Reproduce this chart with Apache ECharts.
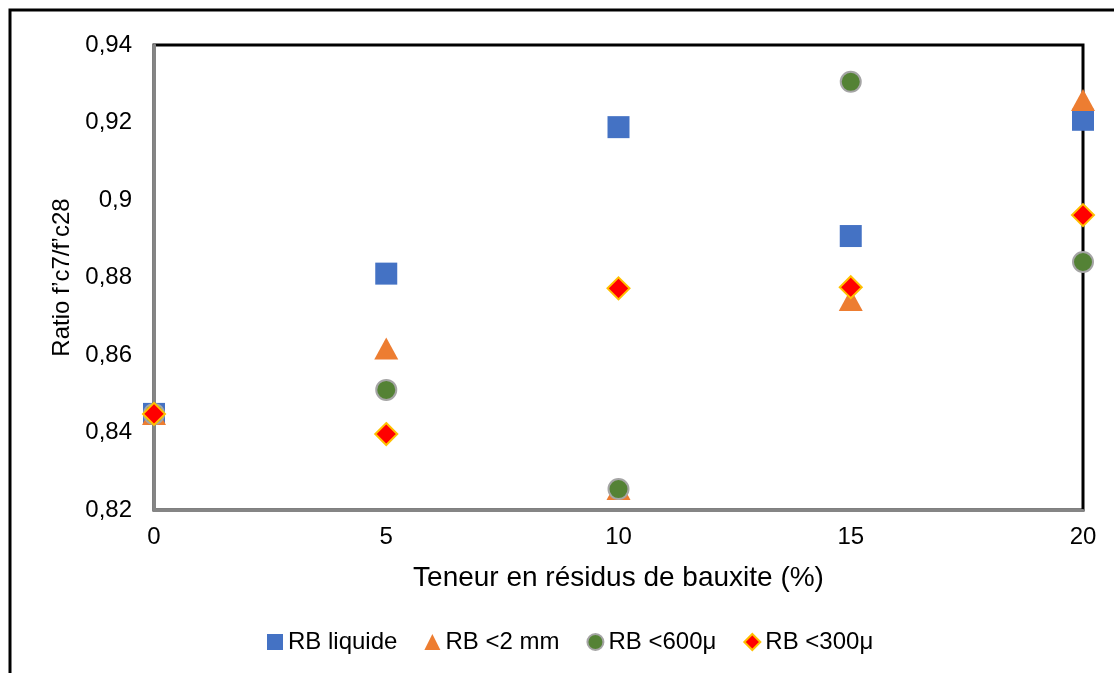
<!DOCTYPE html>
<html>
<head>
<meta charset="utf-8">
<script src="https://cdn.jsdelivr.net/npm/echarts@6/dist/echarts.min.js"></script>
<style>
  html, body { margin: 0; padding: 0; background: #ffffff; }
  #chart { width: 1114px; height: 673px; }
</style>
</head>
<body>
<div id="chart"></div>
<script>
// Teneur en résidus de bauxite (%)
const teneur = [0, 5, 10, 15, 20];

// Ratio f'c7/f'c28 per type of bauxite residue
const rbLiquide = [0.8448, 0.8810, 0.9188, 0.8907, 0.9207];
const rb2mm     = [0.8448, 0.8617, 0.8254, 0.8742, 0.9258];
const rb600     = [0.8448, 0.8510, 0.8254, 0.9305, 0.8840];
const rb300     = [0.8448, 0.8396, 0.8772, 0.8775, 0.8961];

const seriesNames = ['RB liquide', 'RB <2 mm', 'RB <600μ', 'RB <300μ'];
const yTicks = { min: 0.82, max: 0.94, step: 0.02 };
const xTicks = { min: 0, max: 20, step: 5 };

const FONT = '"Liberation Sans", Arial, sans-serif';

function pairs(ys) { return teneur.map((x, i) => [x, ys[i]]); }

const chart = echarts.init(document.getElementById('chart'), null, { renderer: 'canvas' });

chart.setOption({
  backgroundColor: '#ffffff',
  animation: false,
  textStyle: { fontFamily: FONT, color: '#000' },
  graphic: [
    // outer chart frame (left and top edges visible)
    { type: 'rect', z: 0, silent: true,
      shape: { x: 10, y: 10, width: 1200, height: 800 },
      style: { fill: 'none', stroke: '#000', lineWidth: 3 } }
  ],
  grid: {
    left: 154, right: 31, top: 45, bottom: 163,
    show: true, borderColor: '#000', borderWidth: 3, backgroundColor: 'transparent'
  },
  legend: {
    data: seriesNames,
    top: 625,
    left: 262,
    itemWidth: 16, itemHeight: 16,
    itemGap: 27,
    textStyle: { fontFamily: FONT, fontSize: 24, color: '#000' }
  },
  xAxis: {
    type: 'value',
    min: xTicks.min, max: xTicks.max, interval: xTicks.step,
    name: 'Teneur en résidus de bauxite (%)',
    nameLocation: 'middle',
    nameGap: 54,
    nameTextStyle: { fontFamily: FONT, fontSize: 28, color: '#000' },
    axisLine: { show: true, lineStyle: { color: '#858585', width: 3 } },
    axisTick: { show: false },
    splitLine: { show: false },
    axisLabel: { fontFamily: FONT, fontSize: 24, color: '#000', margin: 15 }
  },
  yAxis: {
    type: 'value',
    min: yTicks.min, max: yTicks.max, interval: yTicks.step,
    name: 'Ratio f’c7/f’c28',
    nameLocation: 'middle',
    nameGap: 76,
    nameRotate: 90,
    nameTextStyle: { fontFamily: FONT, fontSize: 24, color: '#000' },
    axisLine: { show: true, onZero: false, lineStyle: { color: '#858585', width: 3 } },
    axisTick: { show: false },
    splitLine: { show: false },
    axisLabel: {
      fontFamily: FONT, fontSize: 24, color: '#000', margin: 22,
      formatter: v => String(Math.round(v * 100) / 100).replace('.', ',')
    }
  },
  series: [
    {
      name: seriesNames[0], type: 'scatter', clip: false, z: 3,
      symbol: 'rect', symbolSize: 22,
      itemStyle: { color: '#4472C4', opacity: 1 },
      data: pairs(rbLiquide)
    },
    {
      name: seriesNames[1], type: 'scatter', clip: false, z: 4,
      symbol: 'triangle', symbolSize: [24, 22],
      itemStyle: { color: '#ED7D31', opacity: 1 },
      data: pairs(rb2mm)
    },
    {
      name: seriesNames[2], type: 'scatter', clip: false, z: 5,
      symbol: 'circle', symbolSize: 20,
      itemStyle: { color: '#548235', borderColor: '#A5A5A5', borderWidth: 2, opacity: 1 },
      data: pairs(rb600)
    },
    {
      name: seriesNames[3], type: 'scatter', clip: false, z: 6,
      symbol: 'diamond', symbolSize: 22,
      itemStyle: { color: '#FF0000', borderColor: '#FFC000', borderWidth: 2, opacity: 1 },
      data: pairs(rb300)
    }
  ]
});
</script>
</body>
</html>
